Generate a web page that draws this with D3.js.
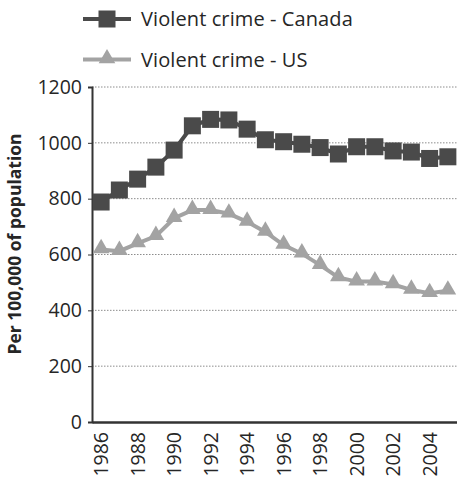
<!DOCTYPE html>
<html>
<head>
<meta charset="utf-8">
<script src="https://cdn.jsdelivr.net/npm/d3@7"></script>
<style>
  html, body { margin: 0; padding: 0; background: #fff; }
  svg { display: block; }
  text { font-family: "Open Sans", "Noto Sans", sans-serif; fill: #262626; }
</style>
</head>
<body>
<svg id="chart" width="457" height="478"></svg>
<script>
// Violent crime rates per 100,000 population
const years = [1986, 1987, 1988, 1989, 1990, 1991, 1992, 1993, 1994, 1995,
               1996, 1997, 1998, 1999, 2000, 2001, 2002, 2003, 2004, 2005];
const canada = [788, 831, 870, 913, 974, 1061, 1084, 1082, 1049, 1011,
                1004, 995, 983, 960, 986, 986, 971, 967, 944, 950];
const us = [618, 612, 640, 666, 730, 759, 759, 746, 717, 681,
            634, 603, 562, 518, 503, 503, 493, 473, 461, 470];
const yTicks = [0, 200, 400, 600, 800, 1000, 1200];
const xTickYears = [1986, 1988, 1990, 1992, 1994, 1996, 1998, 2000, 2002, 2004];
const seriesNames = ["Violent crime - Canada", "Violent crime - US"];

const svg = d3.select("#chart");
const plotLeft = 92, plotRight = 457, plotTop = 87, plotBottom = 422;

const x = d3.scaleBand().domain(years).range([plotLeft, plotRight]);
const y = d3.scaleLinear().domain([0, 1200]).range([plotBottom, plotTop]);
const cx = d => x(d) + x.bandwidth() / 2;

const series = [
  { name: seriesNames[0], values: canada, color: "#4a4a4a", marker: "square" },
  { name: seriesNames[1], values: us, color: "#a3a3a3", marker: "triangle" }
];

// dotted horizontal gridlines
svg.append("g")
  .selectAll("line")
  .data(yTicks.filter(t => t > 0))
  .join("line")
  .attr("x1", plotLeft).attr("x2", plotRight)
  .attr("y1", d => y(d)).attr("y2", d => y(d))
  .attr("stroke", "#8c8c8c")
  .attr("stroke-width", 1)
  .attr("stroke-dasharray", "1.5,1.5");

// y axis
const yAxis = svg.append("g")
  .attr("transform", `translate(${plotLeft},0)`)
  .call(d3.axisLeft(y).tickValues(yTicks).tickSize(4).tickPadding(6).tickFormat(d3.format("d")));
yAxis.select(".domain").attr("stroke", "#333").attr("stroke-width", 2);
yAxis.selectAll(".tick line").attr("stroke", "#333").attr("stroke-width", 1);
yAxis.selectAll(".tick text")
  .style("font-family", '"Open Sans", sans-serif')
  .style("font-size", "19.5px")
  .attr("fill", "#262626");

// x axis
const xAxis = svg.append("g")
  .attr("transform", `translate(0,${plotBottom})`)
  .call(d3.axisBottom(x).tickValues(xTickYears).tickSize(0).tickPadding(0).tickSizeOuter(0));
xAxis.select(".domain").attr("stroke", "#333").attr("stroke-width", 2.5);
xAxis.selectAll(".tick text")
  .style("font-family", '"Open Sans", sans-serif')
  .style("font-size", "19.5px")
  .attr("fill", "#262626")
  .attr("text-anchor", "end")
  .attr("dy", "0.36em")
  .attr("transform", "translate(0,10) rotate(-90)")
  .attr("x", 0).attr("y", 0);

// y axis title
svg.append("text")
  .attr("transform", `translate(21,${(133 + 355) / 2}) rotate(-90)`)
  .attr("text-anchor", "middle")
  .style("font-size", "17.5px")
  .style("font-weight", "bold")
  .text("Per 100,000 of population");

const line = d3.line().x((d, i) => cx(years[i])).y(d => y(d));

function drawMarker(g, type, color) {
  if (type === "square") {
    g.append("rect")
      .attr("x", -8.5).attr("y", -8.5).attr("width", 17).attr("height", 17)
      .attr("fill", color);
  } else {
    g.append("path")
      .attr("d", d3.symbol(d3.symbolTriangle, 120)())
      .attr("transform", "translate(0,-1)")
      .attr("fill", color);
  }
}

// series lines and markers
series.slice().reverse().forEach(s => {
  svg.append("path")
    .datum(s.values)
    .attr("d", line)
    .attr("fill", "none")
    .attr("stroke", s.color)
    .attr("stroke-width", 4);
  svg.append("g")
    .selectAll("g")
    .data(s.values)
    .join("g")
    .attr("transform", (d, i) => `translate(${cx(years[i])},${y(d)})`)
    .each(function () { drawMarker(d3.select(this), s.marker, s.color); });
});

// legend
const legend = svg.append("g");
series.forEach((s, i) => {
  const ly = 19 + i * 40.5;
  const g = legend.append("g").attr("transform", `translate(0,${ly})`);
  g.append("line")
    .attr("x1", 83).attr("x2", 131).attr("y1", 0).attr("y2", 0)
    .attr("stroke", s.color).attr("stroke-width", 4);
  const m = g.append("g").attr("transform", "translate(107,0)");
  drawMarker(m, s.marker, s.color);
  g.append("text")
    .attr("x", 141).attr("y", 0).attr("dy", "0.36em")
    .style("font-size", "20px")
    .style("letter-spacing", "0.1px")
    .text(s.name);
});
</script>
</body>
</html>
